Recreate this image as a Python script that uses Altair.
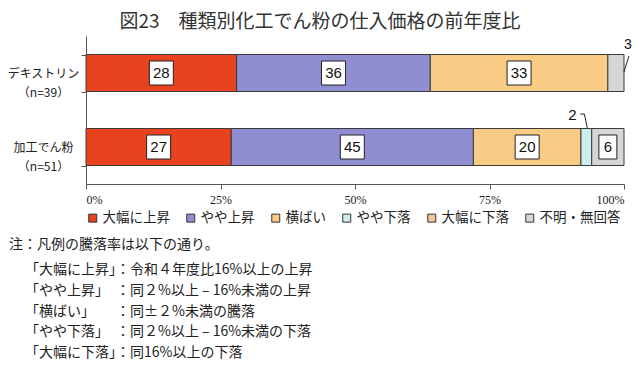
import altair as alt
import pandas as pd

# ---- data ----
categories = ["デキストリン", "加工でん粉"]
sample_sizes = ["（n=39）", "（n=51）"]
series = ["大幅に上昇", "やや上昇", "横ばい", "やや下落", "大幅に下落", "不明・無回答"]
dextrin_values = [28, 36, 33, 0, 0, 3]
processed_values = [27, 45, 20, 2, 0, 6]
x_ticks = [0, 25, 50, 75, 100]
title_text = "図23　種類別化工でん粉の仕入価格の前年度比"
note_head = "注：凡例の騰落率は以下の通り。"
note_lines = [
    "「大幅に上昇」：令和４年度比16%以上の上昇",
    "「やや上昇」　：同２%以上 – 16%未満の上昇",
    "「横ばい」　　：同±２%未満の騰落",
    "「やや下落」　：同２%以上 – 16%未満の下落",
    "「大幅に下落」：同16%以上の下落",
]

# ---- styles ----
colors = ["#E8421E", "#8E8ED0", "#F8CC84", "#CDEEEE", "#F0C6A0", "#D6D6D6"]
JP = "Noto Sans CJK JP"
TXT = "#222222"

rows = []
cat_labels = []
for cat, n, vals in zip(categories, sample_sizes, [dextrin_values, processed_values]):
    lab = cat + "\n" + n
    cat_labels.append(lab)
    start = 0
    for s, v in zip(series, vals):
        rows.append(dict(cat=lab, series=s, value=v, start=start, end=start + v,
                         mid=start + v / 2, label=str(v)))
        start += v
df = pd.DataFrame(rows)

x_enc = alt.X("start:Q", scale=alt.Scale(domain=[0, 100], nice=False),
              axis=alt.Axis(values=x_ticks, labelExpr="datum.value + '%'", title=None,
                            grid=False, tickSize=5, tickColor="#555", domainColor="#555",
                            labelFont="Liberation Sans Narrow", labelFontSize=12,
                            labelColor=TXT, labelPadding=5))
y_enc = alt.Y("cat:N", sort=cat_labels,
              scale=alt.Scale(paddingInner=0.5, paddingOuter=0.25),
              axis=alt.Axis(title=None, labelExpr="split(datum.label, '\\n')",
                            labelAlign="center", labelBaseline="middle", labelPadding=38,
                            labelFont=JP, labelFontSize=12, labelColor=TXT, labelLineHeight=19,
                            tickBand="extent", tickSize=5, tickColor="#555",
                            domainColor="#555"))

base = alt.Chart(df)

bars = base.mark_bar(stroke="#3a3a3a", strokeWidth=1).encode(
    x=x_enc, x2="end:Q", y=y_enc,
    color=alt.Color("series:N", scale=alt.Scale(domain=series, range=colors),
                    legend=alt.Legend(title=None, orient="none", direction="horizontal",
                                      legendX=0, legendY=175, symbolType="square",
                                      symbolSize=64, symbolStrokeColor="#333",
                                      symbolStrokeWidth=1, labelFont=JP, labelFontSize=13.5,
                                      labelColor=TXT, columnPadding=14, labelOffset=3)),
).transform_filter("datum.value > 0")

box2 = base.mark_point(shape="M-12,-12H12V12H-12Z", size=4, filled=True, fill="white",
                       stroke="#222", strokeWidth=1, opacity=1).encode(
    x="mid:Q", y=alt.Y("cat:N", sort=cat_labels)
).transform_filter("datum.value >= 10")
box1 = base.mark_point(shape="M-9,-12H9V12H-9Z", size=4, filled=True, fill="white",
                       stroke="#222", strokeWidth=1, opacity=1).encode(
    x="mid:Q", y=alt.Y("cat:N", sort=cat_labels)
).transform_filter("datum.value >= 5 && datum.value < 10")
box_text = base.mark_text(font="Liberation Sans", fontSize=15, color="#111").encode(
    x="mid:Q", y=alt.Y("cat:N", sort=cat_labels), text="label:N"
).transform_filter("datum.value >= 5")

# callouts for small segments
c1 = "datum.value > 0 && datum.value < 5 && datum.series == '不明・無回答'"
c2 = "datum.value > 0 && datum.value < 5 && datum.series == 'やや下落'"
lead1 = base.mark_point(shape="M8,-1L13,-17", size=4, filled=False, stroke="#222",
                        strokeWidth=1, opacity=1).encode(
    x="mid:Q", y=alt.Y("cat:N", sort=cat_labels)).transform_filter(c1)
lab1 = base.mark_text(font="Liberation Sans", fontSize=14, color="#111", dx=12, dy=-28).encode(
    x="mid:Q", y=alt.Y("cat:N", sort=cat_labels), text="label:N").transform_filter(c1)
lead2 = base.mark_point(shape="M-6,-33H-2L1,-19", size=4, filled=False, stroke="#222",
                        strokeWidth=1, opacity=1).encode(
    x="mid:Q", y=alt.Y("cat:N", sort=cat_labels)).transform_filter(c2)
lab2 = base.mark_text(font="Liberation Sans", fontSize=15, color="#111", dx=-14, dy=-32).encode(
    x="mid:Q", y=alt.Y("cat:N", sort=cat_labels), text="label:N").transform_filter(c2)

title = alt.Chart(pd.DataFrame({"t": [title_text]})).mark_text(
    font=JP, fontSize=19, color="#333", align="center", baseline="middle"
).encode(x=alt.value(234), y=alt.value(-14), text="t:N")

note1 = alt.Chart(pd.DataFrame({"t": [note_head]})).mark_text(
    font=JP, fontSize=14, color=TXT, align="left", baseline="middle"
).encode(x=alt.value(-77), y=alt.value(209), text="t:N")
note2 = alt.Chart(pd.DataFrame({"t": ["\n".join(note_lines)]})).mark_text(
    font=JP, fontSize=14, color=TXT, align="left", baseline="middle", lineBreak="\n",
    lineHeight=20.8
).encode(x=alt.value(-61), y=alt.value(234), text="t:N")

chart = alt.layer(bars, box2, box1, box_text, lead1, lab1, lead2, lab2, title, note1, note2
).properties(
    width=538, height=148, autosize="none",
    padding={"left": 78, "top": 28, "right": 8, "bottom": 190},
    background="white",
).configure_view(stroke=None)

chart.save("out.html", embed_options={"renderer": "svg", "actions": False})
